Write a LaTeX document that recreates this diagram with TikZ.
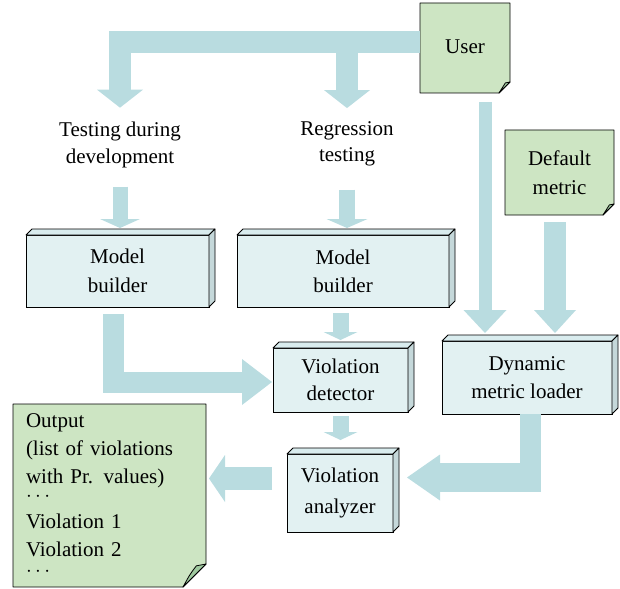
\documentclass[tikz,border=0pt]{standalone}
\usepackage{fontspec}
\setmainfont{Liberation Serif}
\usetikzlibrary{arrows.meta,calc}
\definecolor{arrowc}{HTML}{B9DCE0}
\definecolor{boxc}{HTML}{E2F1F2}
\definecolor{topc}{HTML}{D9ECEE}
\definecolor{sidec}{HTML}{C5D8DA}
\definecolor{notec}{HTML}{CDE5C3}
\definecolor{flapc}{HTML}{9FC99F}
\pgfdeclarelayer{background}
\pgfsetlayers{background,main}
\newcommand\myfs[1]{\fontsize{21}{#1}\selectfont}
\newcommand\mythreed[1]{%
  \filldraw[fill=topc, line width=0.8pt, line join=round]
    (#1.north west) -- ++(6,-6) -- ($(#1.north east)+(6,-6)$) -- (#1.north east) -- cycle;
  \filldraw[fill=sidec, line width=0.8pt, line join=round]
    (#1.north east) -- ++(6,-6) -- ($(#1.south east)+(6,-6)$) -- (#1.south east) -- cycle;}
\newcommand\mynote[2]{%
  \begin{pgfonlayer}{background}
  \filldraw[fill=notec, line width=0.8pt, line join=round]
    (#1.north west) -- (#1.north east) -- ($(#1.south east)+(0,-#2)$)
    -- ($(#1.south east)+(-#2,0)$) -- (#1.south west) -- cycle;
  \filldraw[fill=flapc, line width=0.8pt, line join=round]
    ($(#1.south east)+(-#2,0)$) .. controls ($(#1.south east)+(-0.7*#2,-0.55*#2)$) ..
    ($(#1.south east)+(-0.42*#2,-0.92*#2)$) -- ($(#1.south east)+(0,-#2)$) -- cycle;
  \end{pgfonlayer}}
\tikzset{
  mbox/.style={draw, fill=boxc, line width=0.8pt, inner sep=0pt, outer sep=0pt, align=center},
  mnote/.style={inner sep=0pt, outer sep=0pt, align=center},
  ttext/.style={inner sep=0pt, outer sep=0pt, align=center},
  blk/.style={draw=arrowc, line cap=butt, line join=miter, line width=#1},
  hd/.style 2 args={-{Triangle[width=#1,length=#2,line width=0pt,fill=arrowc]}},
}
\begin{document}
\begin{tikzpicture}[x=1pt,y=-1pt]
\useasboundingbox (0,0) rectangle (620,588);

% notes
\node[mnote, minimum width=90pt, minimum height=90pt, font=\myfs{27}] (user) at (465,48) {\raisebox{3pt}{User}};
\node[mnote, minimum width=109pt, minimum height=85pt, font=\myfs{29}] (dm) at (559.5,172.5) {Default\\metric};
\node[mnote, minimum width=193pt, minimum height=183pt, text width=167pt, inner xsep=13pt,
      align=left, font=\myfs{28}] (out) at (109.5,495.5)
  {Output\\(list of violations\\with Pr. values)\\[-10pt]$\cdots$\\[-1pt]Violation 1\\Violation 2\\[-8pt]$\cdots$};
\mynote{user}{11}
\mynote{dm}{11}
\mynote{out}{23}

% texts
\node[ttext, font=\myfs{27}] (t1) at (120,144.7) {Testing during\\development};
\node[ttext, font=\myfs{26}] (t2) at (347,144.3) {Regression\\testing};

% boxes
\node[mbox, minimum width=183pt, minimum height=72pt, font=\myfs{29}] (mb1) at (117.5,271) {Model\\builder};
\node[mbox, minimum width=212pt, minimum height=72pt, font=\myfs{28}] (mb2) at (343,271) {Model\\builder};
\node[mbox, minimum width=135pt, minimum height=64pt, font=\myfs{27}] (vd) at (340.5,380) {Violation\\detector};
\node[mbox, minimum width=170pt, minimum height=73pt, font=\myfs{28}] (dml) at (527,377.5) {Dynamic\\metric loader};
\node[mbox, minimum width=106pt, minimum height=78pt, font=\myfs{31}] (va) at (340,493) {Violation\\analyzer};
\mythreed{mb1}
\mythreed{mb2}
\mythreed{vd}
\mythreed{dml}
\mythreed{va}

% arrows
\draw[blk=22pt, hd={46pt}{18pt}, shorten >=14pt] ([yshift=6pt]user.west) -| (t1.north);
\draw[blk=22pt, hd={46pt}{18pt}, shorten >=14pt] ([yshift=6pt]user.west) -| (t2.north);

\draw[blk=15pt, hd={40pt}{9pt}, shorten <=19pt, shorten >=7pt] (t1.south) -- (t1.south |- mb1.north);
\draw[blk=16pt, hd={41pt}{9pt}, shorten <=23pt, shorten >=7pt] (t2.south) -- (t2.south |- mb2.north);

\draw[blk=16pt, hd={34pt}{8pt}, shorten <=6pt, shorten >=8pt] (vd.north |- mb2.south) -- (vd.north);
\draw[blk=16pt, hd={34pt}{8pt}, shorten <=4pt, shorten >=14pt] (vd.south) -- (vd.south |- va.north);

\coordinate (u1) at ($(user.south)+(20,0)$);
\draw[blk=13pt, hd={43pt}{23pt}, shorten <=9pt, shorten >=8pt] (u1) -- (u1 |- dml.north);
\coordinate (d1) at ($(dm.south)+(-4.5,0)$);
\draw[blk=22pt, hd={42pt}{23pt}, shorten <=7pt, shorten >=8pt] (d1) -- (d1 |- dml.north);

\coordinate (m1) at ($(mb1.south)+(-4,0)$);
\coordinate (v1) at ($(vd.west)+(0,2)$);
\draw[blk=21pt, hd={46pt}{30pt}, shorten <=7pt, shorten >=1pt] (m1) |- (v1);

\coordinate (c10) at ($(dml.south)+(3.5,63.5)$);
\draw[blk=21pt] (c10 |- dml.south) -- ($(c10)+(0,14.5)$);
\draw[blk=29pt, hd={46pt}{33pt}, shorten >=14pt] ($(c10)+(10.5,0)$) -- (c10 -| va.east);

\coordinate (a11) at ($(va.west)+(0,-14.5)$);
\draw[blk=23pt, hd={47pt}{16pt}, shorten <=15pt, shorten >=3pt] (a11) -- (a11 -| out.east);
\end{tikzpicture}
\end{document}
